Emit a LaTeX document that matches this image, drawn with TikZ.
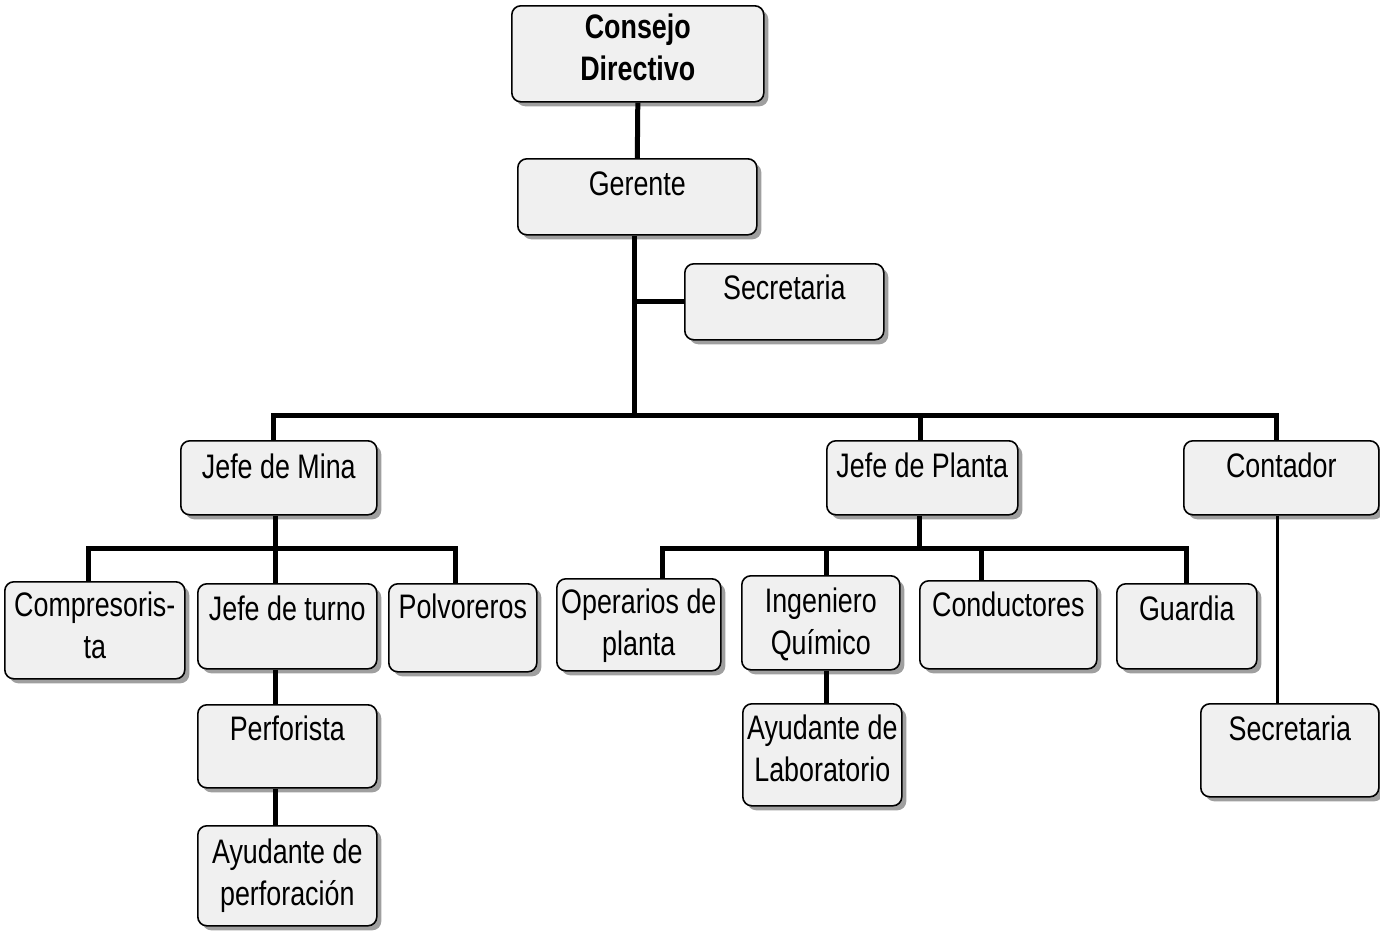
\documentclass[tikz,border=0pt]{standalone}
\usepackage{fontspec}
\setmainfont{Liberation Sans}[FakeStretch=0.79]
\usetikzlibrary{shadows}
\definecolor{boxfill}{HTML}{F0F0F0}
\newcommand\obox[7]{%
  \node[box, minimum width={#4pt-#2pt}, minimum height={#5pt-#3pt}] (#1) at (#2,#3) {};
  \node[lbl] (#1t) at ([yshift=-#6pt]#1.north) {#7};}
\begin{document}
\begin{tikzpicture}[x=1pt,y=-1pt,
  box/.style={draw=black, line width=1.6pt, rounded corners=9pt, fill=boxfill,
    drop shadow={shadow xshift=4.5pt, shadow yshift=-4.5pt, fill=black!75},
    inner sep=0pt, anchor=north west},
  lbl/.style={anchor=north, inner sep=0pt, align=center, text=black,
    font=\fontsize{34}{42}\selectfont},
  conn/.style={draw=black, line width=5pt},
  thinconn/.style={draw=black, line width=3.5pt}]
\useasboundingbox (0,0) rectangle (1380,930);
% boxes
\obox{cons}{511}{5}{763}{101}{9}{\bfseries Consejo\\\bfseries Directivo}
\obox{ger}{517}{158}{756}{234}{14}{Gerente}
\obox{sec}{684}{263}{883}{339}{12}{Secretaria}
\obox{mina}{180}{440}{376}{514}{14}{Jefe de Mina}
\obox{planta}{826}{440}{1017}{514}{13}{Jefe de Planta}
\obox{cont}{1183}{440}{1378}{514}{13}{Contador}
\obox{comp}{4}{581}{184}{678}{11}{Compresoris-\\ta}
\obox{turno}{197}{583}{376}{668}{13}{Jefe de turno}
\obox{polv}{388}{583}{536}{671}{11}{Polvoreros}
\obox{oper}{556}{578}{720}{670}{11}{Operarios de\\planta}
\obox{ing}{741}{575}{899}{669}{13}{Ingeniero\\Químico}
\obox{cond}{919}{580}{1096}{668}{12}{Conductores}
\obox{guard}{1116}{583}{1256}{668}{13}{Guardia}
\obox{sec2}{1200}{703}{1378}{796}{13}{Secretaria}
\obox{perf}{197}{704}{376}{787}{12}{Perforista}
\obox{ayl}{742}{703}{901}{805}{12}{Ayudante de\\Laboratorio}
\obox{ayp}{197}{825}{376}{925}{14}{Ayudante de\\perforación}
% connectors
\coordinate (bus1) at (634,415);
\coordinate (bus2) at (275,548);
\coordinate (bus3) at (919,548);
\draw[conn] (cons.south) -- (ger.north);
\draw[conn] (bus1 |- ger.south) -- (bus1);
\draw[conn] (bus1 |- sec.west) -- (sec.west);
\draw[conn] ([xshift=-5pt]mina.north) |- (bus1) -| ([xshift=-5pt]cont.north);
\draw[conn] ([xshift=-2pt]planta.north) -- ([xshift=-2pt]planta.north |- bus1);
% mina subtree
\draw[conn] (bus2 |- mina.south) -- (bus2 |- turno.north);
\draw[conn] ([xshift=-6pt]comp.north) |- (bus2) -| ([xshift=-7pt]polv.north);
\draw[conn] (bus2 |- turno.south) -- (bus2 |- perf.north);
\draw[conn] (bus2 |- perf.south) -- (bus2 |- ayp.north);
% planta subtree
\draw[conn] (bus3 |- planta.south) -- (bus3);
\draw[conn] ([xshift=24pt]oper.north) |- (bus3) -| (guard.north);
\draw[conn] ([xshift=6pt]ing.north) -- ([xshift=6pt]ing.north |- bus3);
\draw[conn] ([xshift=-27pt]cond.north) -- ([xshift=-27pt]cond.north |- bus3);
\draw[conn] ([xshift=6pt]ing.south) -- ([xshift=6pt]ing.south |- ayl.north);
% contador
\draw[thinconn] ([xshift=-4pt]cont.south) -- ([xshift=-4pt]cont.south |- sec2.north);
\end{tikzpicture}
\end{document}
